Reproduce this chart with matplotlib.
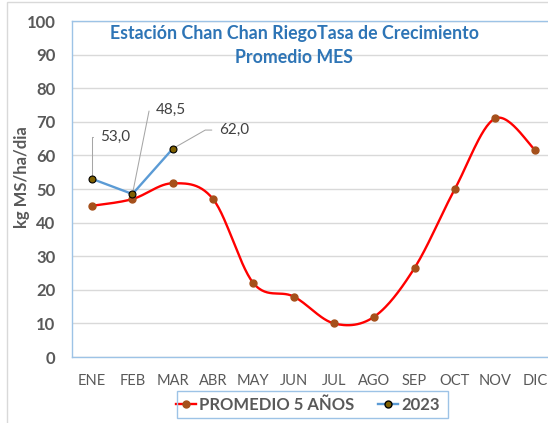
import matplotlib
matplotlib.use('Agg')
import matplotlib.pyplot as plt
import numpy as np
from matplotlib.patches import Rectangle

plt.rcParams['font.family'] = ['Lato', 'DejaVu Sans']

months = ['ENE', 'FEB', 'MAR', 'ABR', 'MAY', 'JUN',
          'JUL', 'AGO', 'SEP', 'OCT', 'NOV', 'DIC']
promedio_5 = [45.0, 47.0, 51.7, 47.0, 22.0, 18.0,
              10.0, 12.0, 26.5, 50.0, 71.0, 61.5]
anio_2023 = [53.0, 48.5, 62.0]
title = 'Estación Chan Chan RiegoTasa de Crecimiento\nPromedio MES'


def smooth(x, y, n=30):
    # Catmull-Rom curve through the points (like Excel "smoothed line")
    pts = np.column_stack([x, y]).astype(float)
    pts = np.vstack([pts[0], pts, pts[-1]])
    out = []
    for i in range(1, len(pts) - 2):
        p0, p1, p2, p3 = pts[i - 1], pts[i], pts[i + 1], pts[i + 2]
        c1 = p1 + (p2 - p0) / 6
        c2 = p2 - (p3 - p1) / 6
        t = np.linspace(0, 1, n)[:, None]
        seg = ((1 - t) ** 3 * p1 + 3 * (1 - t) ** 2 * t * c1
               + 3 * (1 - t) * t ** 2 * c2 + t ** 3 * p2)
        out.append(seg if i == 1 else seg[1:])
    seg = np.vstack(out)
    return seg[:, 0], seg[:, 1]


W, H = 548, 423
fig = plt.figure(figsize=(W / 100, H / 100), dpi=100)
fig.patches.append(Rectangle((7 / W, -0.1), 1.2, 1.1 - 2 / H, transform=fig.transFigure,
                             fill=False, edgecolor='#D9D9D9', lw=1))

ax = fig.add_axes([72 / W, 66 / H, 483.6 / W, 336 / H])

gray = '#595959'
blue_spine = '#9DC3E6'

x = np.arange(len(months))
sx, sy = smooth(x, promedio_5)
ax.plot(sx, sy, color='#FF0000', lw=1.7, zorder=3)
ax.plot(x, promedio_5, 'o', color='#A5501B', ms=5, zorder=4)
x23 = np.arange(len(anio_2023))
ax.plot(x23, anio_2023, color='#5B9BD5', lw=1.7, zorder=5)
ax.plot(x23, anio_2023, 'o', color='#7F6000', mec='black', mew=0.8, ms=5, zorder=6)

# legend proxies
ax.plot([], [], color='#FF0000', lw=1.7, marker='o', mfc='#A5501B', mec='#A5501B', ms=5,
        label='PROMEDIO 5 AÑOS')
ax.plot([], [], color='#5B9BD5', lw=1.7, marker='o', mfc='#7F6000', mec='black', ms=5,
        label='2023')

# data labels for 2023 with leader lines
offsets = [(8, 42, 90), (23.4, 84, 78.7), (46, 18.6, 29.8)]
for i, v in enumerate(anio_2023):
    dx, dy, ang = offsets[i]
    ax.annotate(f'{v:.1f}'.replace('.', ','), xy=(i, v), xytext=(dx, dy),
                textcoords='offset pixels', ha='left', va='center',
                fontsize=11, color='#404040',
                arrowprops=dict(arrowstyle='-', color='#A6A6A6', lw=0.75,
                                shrinkA=3, shrinkB=0, relpos=(0, 0.5),
                                connectionstyle=f'angle,angleA=0,angleB={ang},rad=0'))

ax.set_xlim(-0.5, 11.5)
ax.set_ylim(0, 100)
ax.set_yticks(range(0, 101, 10))
ax.set_xticks(x)
ax.set_xticklabels(months)
ax.grid(axis='y', color='#D9D9D9', lw=1)
ax.set_axisbelow(True)
for s in ax.spines.values():
    s.set_color(blue_spine)
    s.set_linewidth(1)
ax.tick_params(axis='x', length=0, pad=12, labelsize=10.5, labelcolor=gray)
ax.tick_params(axis='y', length=0, pad=12, labelsize=12, labelcolor=gray)
for lbl in ax.get_yticklabels():
    lbl.set_fontweight('bold')

ax.set_ylabel('kg MS/ha/dia', fontsize=12, fontweight='bold', color=gray)
ax.yaxis.set_label_coords(-42 / 483.6, (357 - 177) / 336)

fig.text(294 / W, 1 - 45.5 / H, title, ha='center', va='center', fontsize=12.8,
         fontweight='bold', color='#2E75B6', linespacing=1.55)

# legend frame drawn separately so its padding can match the reference
fig.patches.append(Rectangle((177 / W, 1 - 418 / H), 271 / W, 27 / H,
                             transform=fig.transFigure, fill=False,
                             edgecolor=blue_spine, lw=1))
leg = ax.legend(loc='center', bbox_to_anchor=(308 / W, 1 - 404.5 / H),
                bbox_transform=fig.transFigure, ncol=2, frameon=False,
                handlelength=1.2, columnspacing=1.4, handletextpad=0.2,
                prop={'size': 12, 'weight': 'bold'})
for t in leg.get_texts():
    t.set_color(gray)

fig.savefig('out.png', dpi=100)
plt.close(fig)
